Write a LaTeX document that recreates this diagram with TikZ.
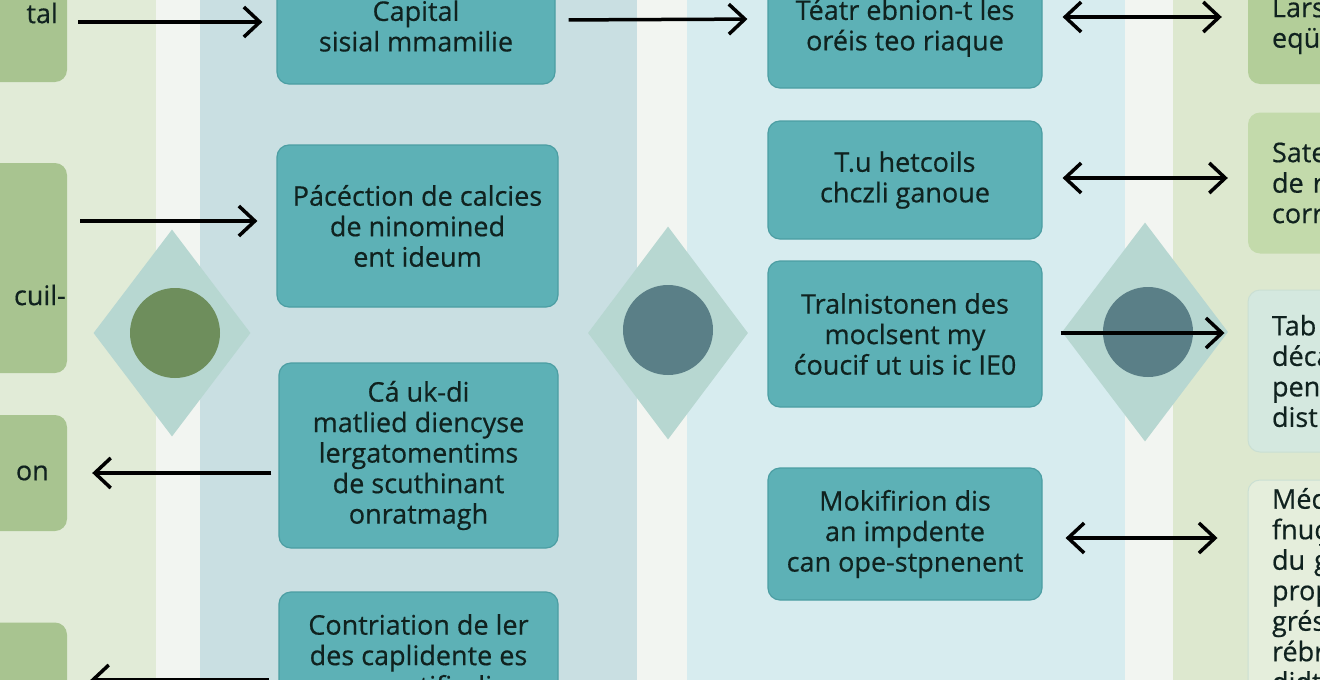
\documentclass[tikz,border=0pt]{standalone}
\usepackage{fontspec}
\setmainfont{Open Sans}[FakeBold=0.5]
\newfontfamily\boxfont{Open Sans}[FakeBold=0.5]
\usetikzlibrary{arrows.meta,shapes.geometric}
\definecolor{bgwhite}{HTML}{F2F5F1}
\definecolor{bandlg}{HTML}{E1EBD7}
\definecolor{bandmb}{HTML}{C9DFE2}
\definecolor{bandmc}{HTML}{D7ECEF}
\definecolor{bandrg}{HTML}{DDE8CF}
\definecolor{tealfill}{HTML}{5DB1B6}
\definecolor{tealline}{HTML}{4C9EA3}
\definecolor{leafbox}{HTML}{A8C490}
\definecolor{rboxa}{HTML}{B3CE99}
\definecolor{rboxb}{HTML}{C3DAAB}
\definecolor{rboxc}{HTML}{D4E8DF}
\definecolor{rboxd}{HTML}{E5EEDC}
\definecolor{rline}{HTML}{CADFD3}
\definecolor{diam}{HTML}{B7D7D1}
\definecolor{circg}{HTML}{6E8E5C}
\definecolor{circt}{HTML}{5A7F87}
\definecolor{ink}{HTML}{10221F}
\begin{document}
\begin{tikzpicture}[x=1pt,y=-1pt,
  txt/.style={font=\boxfont\fontsize{27}{30.5}\selectfont, text=ink},
  tbox/.style={txt, rounded corners=12pt, fill=tealfill, draw=tealline, line width=1.2pt, align=center, inner sep=0pt},
  lbox/.style={rounded corners=12pt, fill=leafbox, inner sep=0pt, minimum width=187},
  rbox/.style={txt, rounded corners=12pt, inner sep=0pt, minimum width=192, text width=144pt, align=left},
  diam/.style={diamond, fill=diam, inner sep=0pt},
  blob/.style={circle, inner sep=0pt, minimum size=90},
  arr/.style={line width=3.5pt, -{Straight Barb[length=16pt,width=30pt,line width=3.5pt]}},
  darr/.style={line width=3.5pt, {Straight Barb[length=16pt,width=30pt,line width=3.5pt]}-{Straight Barb[length=16pt,width=30pt,line width=3.5pt]}}
]
\useasboundingbox (0,0) rectangle (1320,680);
\clip (0,0) rectangle (1320,680);
% background bands
\fill[bgwhite] (0,0) rectangle (1320,680);
\fill[bandlg] (0,0) rectangle (156,680);
\fill[bandmb] (200,0) rectangle (637,680);
\fill[bandmc] (687,0) rectangle (1125,680);
\fill[bandrg] (1173,0) rectangle (1320,680);
% diamonds and blobs
\node[diam, minimum width=157, minimum height=207] (d1) at (172,333) {};
\node[diam, minimum width=160, minimum height=213] (d2) at (668,333) {};
\node[diam, minimum width=166, minimum height=219] (d3) at (1145,332) {};
\node[blob, fill=circg] (c1) at (175,333) {};
\node[blob, fill=circt] (c2) at (668,330) {};
\node[blob, fill=circt] (c3) at (1148,332) {};
% left boxes
\node[lbox, minimum height=112] (lb1) at (-26.5,26) {};
\node[lbox, minimum height=210] (lb2) at (-26.5,268) {};
\node[lbox, minimum height=116] (lb3) at (-26.5,473) {};
\node[lbox, minimum height=137] (lb4) at (-26.5,691) {};
\node[txt, anchor=east, inner sep=0pt] (lt1) at (58,13) {tal};
\node[txt, anchor=east, inner sep=0pt] (lt2) at (66,295) {cuil-};
\node[txt, anchor=east, inner sep=0pt] (lt3) at (49,473) {on};
% middle-left teal boxes
\node[tbox, minimum width=278, minimum height=116] (tl1) at (416,26) {Capital\\sisial mmamilie};
\node[tbox, minimum width=281, minimum height=162] (tl2) at (417.5,226) {Pácéction de calcies\\de ninomined\\ent ideum};
\node[tbox, minimum width=279, minimum height=185] (tl3) at (418.5,455.5) {Cá uk-di\\matlied diencyse\\lergatomentims\\de scuthinant\\onratmagh};
\node[tbox, minimum width=279, minimum height=126] (tl4) at (418.5,655) {Contriation de ler\\des caplidente es\\a on contifiudion};
% middle-right teal boxes
\node[tbox, minimum width=274, minimum height=120] (tr1) at (905,28) {Téatr ebnion-t les\\oréis teo riaque};
\node[tbox, minimum width=274, minimum height=118] (tr2) at (905,180) {T.u hetcoils\\chczli ganoue};
\node[tbox, minimum width=274, minimum height=146] (tr3) at (905,334) {Tralnistonen des\\moclsent my\\ćoucif ut uis ic IE0};
\node[tbox, minimum width=274, minimum height=132] (tr4) at (905,534) {Mokifirion dis\\an impdente\\can ope-stpnenent};
% right boxes
\node[rbox, fill=rboxa, minimum height=116] (rb1) at (1344,26) {Lars\\eqü};
\node[rbox, fill=rboxb, minimum height=141] (rb2) at (1344,183) {Sate\\de r\\corr};
\node[rbox, fill=rboxc, draw=rline, line width=1pt, minimum height=162] (rb3) at (1344,371) {Tab\\déca\\pen\\distr};
\node[rbox, fill=rboxd, draw=rline, line width=1pt, minimum height=220] (rb4) at (1344,590) {Méd\\fnuç\\du g\\prop\\grés\\rébr\\didt};
% connectors
\draw[arr, shorten <=11pt, shorten >=14pt] ([yshift=4]lb1.east) -- ([yshift=4]tl1.west);
\draw[arr, shorten <=13pt, shorten >=20pt] ([yshift=6]tl1.east) -- ([yshift=9]tr1.west);
\draw[darr, shorten <=20pt, shorten >=26pt] ([yshift=11]tr1.east) -- ([yshift=9]rb1.west);
\draw[arr, shorten <=13pt, shorten >=19pt] ([yshift=47]lb2.east) -- ([yshift=5]tl2.west);
\draw[darr, shorten <=20pt, shorten >=20pt] ([yshift=2]tr2.east) -- ([yshift=5]rb2.west);
\draw[arr, shorten <=18pt, shorten >=23pt] ([yshift=1]tr3.east) -- ([yshift=38]rb3.west);
\draw[arr, shorten <=7pt, shorten >=25pt] ([yshift=-17.5]tl3.west) -- (lb3.east);
\draw[darr, shorten <=23pt, shorten >=30pt] ([yshift=-4]tr4.east) -- ([yshift=52]rb4.west);
\draw[arr, shorten <=9pt, shorten >=23pt] ([yshift=-25]tl4.west) -- ([yshift=11]lb4.east);
\end{tikzpicture}
\end{document}
